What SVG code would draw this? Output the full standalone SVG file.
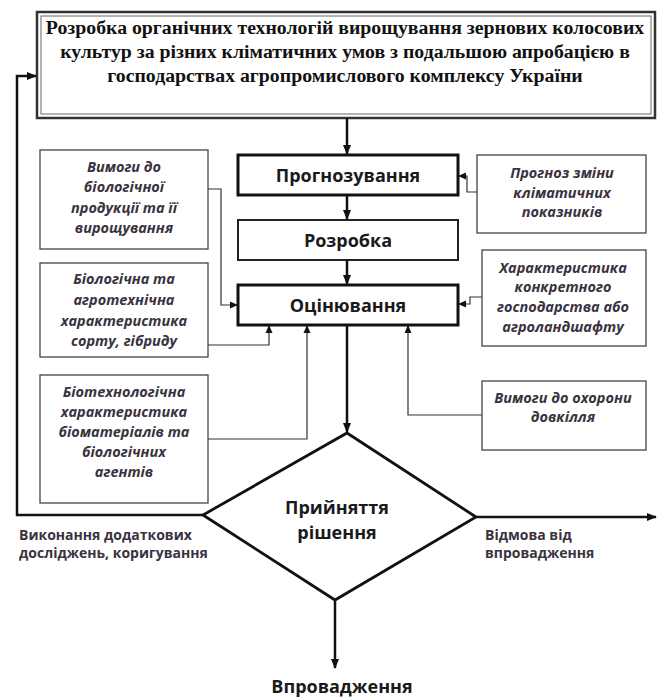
<svg xmlns="http://www.w3.org/2000/svg" width="657" height="697" viewBox="0 0 657 697">
<defs>
<marker id="ah" markerWidth="10" markerHeight="10" refX="9" refY="5" orient="auto" markerUnits="userSpaceOnUse"><path d="M0,1 L10,5 L0,9 Z" fill="#111"/></marker>
<marker id="as" markerWidth="8" markerHeight="8" refX="7" refY="4" orient="auto" markerUnits="userSpaceOnUse"><path d="M0,0.5 L8,4 L0,7.5 Z" fill="#111"/></marker>
<style>
.main{fill:#fff;stroke:#111;stroke-width:3}
.mid{fill:#fff;stroke:#222;stroke-width:2}
.side{fill:#fff;stroke:#444;stroke-width:1.3}
.thick{fill:none;stroke:#111;stroke-width:2.5}
.thin{fill:none;stroke:#333;stroke-width:1.2}
.title{font-family:"Liberation Serif","Times New Roman",serif;font-weight:bold;font-size:19.8px;fill:#111;text-anchor:middle}
.lbl{font-family:"Open Sans","Noto Sans",sans-serif;font-weight:bold;font-size:18px;fill:#1a1a1a;text-anchor:middle}
.it{font-family:"Open Sans","Noto Sans",sans-serif;font-weight:bold;font-style:italic;font-size:14.5px;fill:#3a3240;text-anchor:middle}
.out{font-family:"Open Sans","Noto Sans",sans-serif;font-weight:bold;font-size:14px;fill:#3a3240}
</style>
</defs>
<g id="top">
<rect x="37" y="12" width="618" height="106" fill="#fff" stroke="#333" stroke-width="2.5"/>
<rect x="41" y="16" width="610" height="98" fill="none" stroke="#666" stroke-width="1"/>
<text class="title" x="345" y="34">Розробка органічних технологій вирощування зернових колосових</text>
<text class="title" x="345" y="58">культур за різних кліматичних умов з подальшою апробацією в</text>
<text class="title" x="345" y="82">господарствах агропромислового комплексу України</text>
</g>
<g id="prognoz">
<rect class="main" x="238" y="155" width="220" height="40"/>
<text class="lbl" x="348" y="182">Прогнозування</text>
</g>
<g id="rozrobka">
<rect class="mid" x="238" y="220" width="220" height="40"/>
<text class="lbl" x="348" y="247">Розробка</text>
</g>
<g id="otsin">
<rect class="main" x="238" y="285" width="220" height="40"/>
<text class="lbl" x="348" y="312">Оцінювання</text>
</g>
<g id="l1">
<rect class="side" x="40" y="150" width="168" height="99"/>
<text class="it" x="124" y="172">Вимоги до</text>
<text class="it" x="124" y="192">біологічної</text>
<text class="it" x="124" y="213">продукції та її</text>
<text class="it" x="124" y="233">вирощування</text>
</g>
<g id="l2">
<rect class="side" x="40" y="263" width="168" height="94"/>
<text class="it" x="124" y="284">Біологічна та</text>
<text class="it" x="124" y="305">агротехнічна</text>
<text class="it" x="124" y="326">характеристика</text>
<text class="it" x="124" y="346">сорту, гібриду</text>
</g>
<g id="l3">
<rect class="side" x="40" y="375" width="168" height="128"/>
<text class="it" x="124" y="397">Біотехнологічна</text>
<text class="it" x="124" y="417">характеристика</text>
<text class="it" x="124" y="437">біоматеріалів та</text>
<text class="it" x="124" y="457">біологічних</text>
<text class="it" x="124" y="477">агентів</text>
</g>
<g id="r1">
<rect class="side" x="477" y="155" width="169" height="78"/>
<text class="it" x="562" y="178">Прогноз зміни</text>
<text class="it" x="562" y="198">кліматичних</text>
<text class="it" x="562" y="217">показників</text>
</g>
<g id="r2">
<rect class="side" x="482" y="250" width="164" height="96"/>
<text class="it" x="563" y="273">Характеристика</text>
<text class="it" x="563" y="292">конкретного</text>
<text class="it" x="563" y="312">господарства або</text>
<text class="it" x="563" y="332">агроландшафту</text>
</g>
<g id="r3">
<rect class="side" x="482" y="381" width="164" height="69"/>
<text class="it" x="563" y="403">Вимоги до охорони</text>
<text class="it" x="563" y="422">довкілля</text>
</g>
<g id="decision">
<polygon points="347,433 476,517 335,600 203,515" fill="#fff" stroke="#111" stroke-width="2.8" stroke-linejoin="miter"/>
<text class="lbl" x="337" y="514">Прийняття</text>
<text class="lbl" x="337" y="539">рішення</text>
</g>
<g id="outcomes">
<text class="out" x="19" y="540">Виконання додаткових</text>
<text class="out" x="19" y="558">досліджень, коригування</text>
<text class="out" x="485" y="540">Відмова від</text>
<text class="out" x="485" y="558">впровадження</text>
<text class="lbl" x="342" y="693">Впровадження</text>
</g>
<g id="connectors">
<path class="thick" d="M347,118 V154" marker-end="url(#ah)"/>
<path class="thick" d="M347,195 V219" marker-end="url(#ah)"/>
<path class="thick" d="M347,260 V284" marker-end="url(#ah)"/>
<path class="thick" d="M347,325 V432" marker-end="url(#ah)"/>
<path class="thick" d="M335,600 V668" marker-end="url(#ah)"/>
<path class="thick" d="M476,517 H656" marker-end="url(#ah)"/>
<path class="thick" d="M203,515 H17 V76 H36" marker-end="url(#ah)"/>
<path class="thin" d="M208,189 H221 V305 H237" marker-end="url(#as)"/>
<path class="thin" d="M208,345 H269 V326" marker-end="url(#as)"/>
<path class="thin" d="M208,439 H307 V326" marker-end="url(#as)"/>
<path class="thin" d="M477,192 H467 V176 H459" marker-end="url(#as)"/>
<path class="thin" d="M482,297 H470 V304 H459" marker-end="url(#as)"/>
<path class="thin" d="M482,415 H408 V326" marker-end="url(#as)"/>
</g>
</svg>
